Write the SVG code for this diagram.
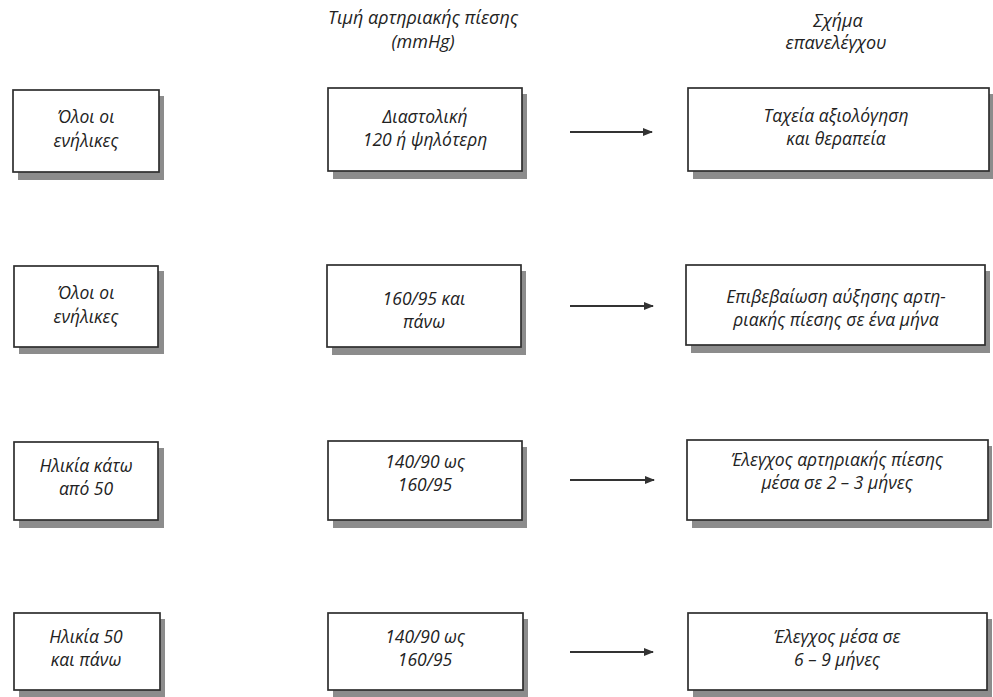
<svg xmlns="http://www.w3.org/2000/svg" width="993" height="697" viewBox="0 0 993 697">
<style>
.bg{fill:#ffffff}
.sh{fill:#8c8c8c}
.box{fill:#ffffff;stroke:#2e2e2e;stroke-width:1.7}
.t{font-family:"Open Sans","DejaVu Sans",sans-serif;font-style:italic;font-size:17.5px;fill:#222;text-anchor:middle}
.h{font-family:"Open Sans","DejaVu Sans",sans-serif;font-style:italic;font-size:18px;fill:#222;text-anchor:middle}
.c{stroke:#333;stroke-width:2;fill:none}
</style>
<defs>
<marker id="ah" markerWidth="10" markerHeight="8" refX="9" refY="4" orient="auto" markerUnits="userSpaceOnUse">
<path d="M0,0 L10,4 L0,8 Z" fill="#333"/>
</marker>
</defs>
<rect class="bg" x="0" y="0" width="993" height="697"/>
<g id="headers">
<text class="h" x="423" y="24">Τιμή αρτηριακής πίεσης</text>
<text class="h" x="423" y="48">(mmHg)</text>
<text class="h" x="838" y="27">Σχήμα</text>
<text class="h" x="836" y="49">επανελέγχου</text>
</g>
<g id="connectors">
<line class="c" x1="570" y1="132" x2="652" y2="132" marker-end="url(#ah)"/>
<line class="c" x1="570" y1="306" x2="653" y2="306" marker-end="url(#ah)"/>
<line class="c" x1="570" y1="480" x2="654" y2="480" marker-end="url(#ah)"/>
<line class="c" x1="570" y1="652" x2="653" y2="652" marker-end="url(#ah)"/>
</g>
<g id="n1a">
<rect class="sh" x="18" y="96" width="146" height="84"/>
<rect class="box" x="13" y="90" width="146" height="82"/>
<text class="t" x="86" y="123">Όλοι οι</text>
<text class="t" x="86" y="147">ενήλικες</text>
</g>
<g id="n1b">
<rect class="sh" x="333" y="94" width="194" height="85"/>
<rect class="box" x="328" y="88" width="194" height="83"/>
<text class="t" x="425" y="123">Διαστολική</text>
<text class="t" x="425" y="146">120 ή ψηλότερη</text>
</g>
<g id="n1c">
<rect class="sh" x="693" y="94" width="300" height="85"/>
<rect class="box" x="688" y="88" width="301" height="83"/>
<text class="t" x="836" y="122">Ταχεία αξιολόγηση</text>
<text class="t" x="836" y="145">και θεραπεία</text>
</g>
<g id="n2a">
<rect class="sh" x="19" y="271" width="145" height="83"/>
<rect class="box" x="14" y="266" width="144" height="81"/>
<text class="t" x="86" y="299">Όλοι οι</text>
<text class="t" x="86" y="323">ενήλικες</text>
</g>
<g id="n2b">
<rect class="sh" x="332" y="271" width="194" height="84"/>
<rect class="box" x="327" y="265" width="194" height="82"/>
<text class="t" x="424" y="305">160/95 και</text>
<text class="t" x="424" y="328">πάνω</text>
</g>
<g id="n2c">
<rect class="sh" x="691" y="271" width="299" height="82"/>
<rect class="box" x="686" y="265" width="299" height="80"/>
<text class="t" x="836" y="303">Επιβεβαίωση αύξησης αρτη-</text>
<text class="t" x="836" y="326">ριακής πίεσης σε ένα μήνα</text>
</g>
<g id="n3a">
<rect class="sh" x="19" y="448" width="145" height="80"/>
<rect class="box" x="14" y="442" width="144" height="78"/>
<text class="t" x="86" y="472">Ηλικία κάτω</text>
<text class="t" x="86" y="495">από 50</text>
</g>
<g id="n3b">
<rect class="sh" x="333" y="447" width="194" height="81"/>
<rect class="box" x="328" y="441" width="194" height="79"/>
<text class="t" x="425" y="468">140/90 ως</text>
<text class="t" x="425" y="491">160/95</text>
</g>
<g id="n3c">
<rect class="sh" x="692" y="446" width="300" height="82"/>
<rect class="box" x="687" y="440" width="301" height="80"/>
<text class="t" x="837" y="466">Έλεγχος αρτηριακής πίεσης</text>
<text class="t" x="837" y="489">μέσα σε 2 – 3 μήνες</text>
</g>
<g id="n4a">
<rect class="sh" x="19" y="619" width="146" height="78"/>
<rect class="box" x="14" y="613" width="146" height="77"/>
<text class="t" x="86" y="643">Ηλικία 50</text>
<text class="t" x="86" y="666">και πάνω</text>
</g>
<g id="n4b">
<rect class="sh" x="333" y="619" width="195" height="78"/>
<rect class="box" x="328" y="613" width="195" height="77"/>
<text class="t" x="425" y="643">140/90 ως</text>
<text class="t" x="425" y="666">160/95</text>
</g>
<g id="n4c">
<rect class="sh" x="693" y="619" width="299" height="78"/>
<rect class="box" x="688" y="613" width="299" height="77"/>
<text class="t" x="837" y="643">Έλεγχος μέσα σε</text>
<text class="t" x="837" y="666">6 – 9 μήνες</text>
</g>
</svg>
